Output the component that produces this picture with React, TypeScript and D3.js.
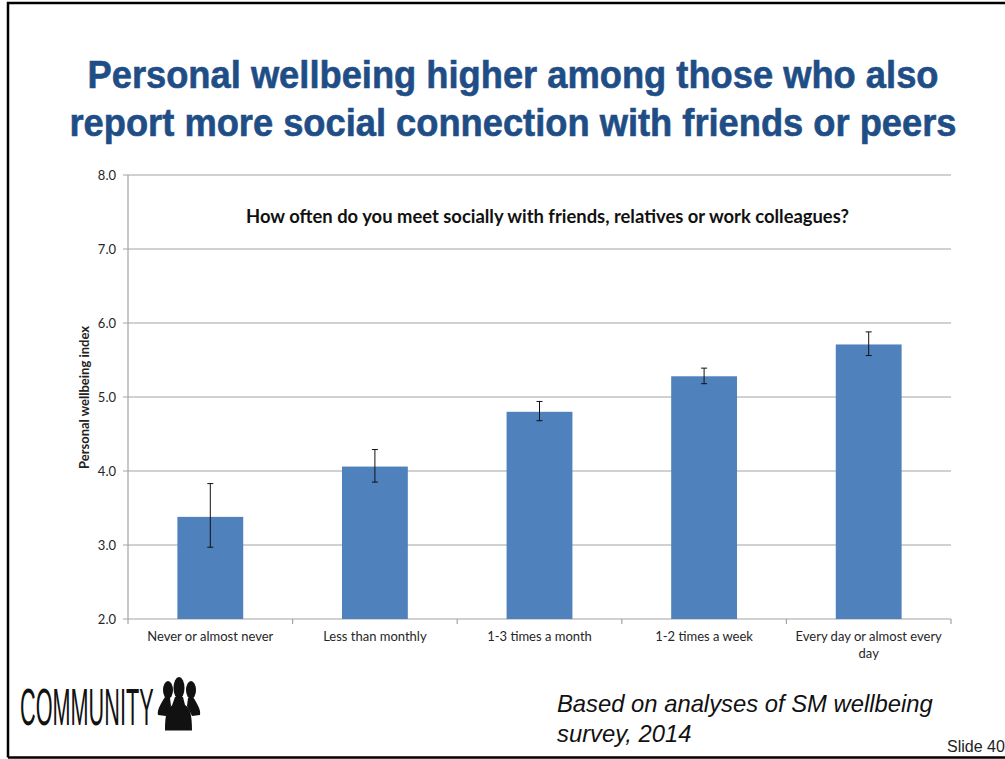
import React from "react";
import * as d3 from "d3";

const categories = ["Never or almost never", "Less than monthly", "1-3 times a month", "1-2 times a week", "Every day or almost every day"];
const categoryLines = [["Never or almost never"], ["Less than monthly"], ["1-3 times a month"], ["1-2 times a week"], ["Every day or almost every", "day"]];
const wellbeing = [3.38, 4.06, 4.8, 5.28, 5.71];
const errorLow = [2.97, 3.85, 4.68, 5.18, 5.56];
const errorHigh = [3.83, 4.29, 4.94, 5.39, 5.88];
const yTicks = [2, 3, 4, 5, 6, 7, 8];
const titleLines = ["Personal wellbeing higher among those who also", "report more social connection with friends or peers"];
const chartHeading = "How often do you meet socially with friends, relatives or work colleagues?";
const yLabel = "Personal wellbeing index";
const sourceLines = ["Based on analyses of SM wellbeing", "survey, 2014"];

const left = 128;
const right = 951;
const top = 175;
const bottom = 619;
const chartFont = "Lato, 'Open Sans', sans-serif";
const sansFont = "'Liberation Sans', Arial, sans-serif";
const axisGrey = "#a3a3a3";

export default function App() {
  const x = d3.scaleBand<string>().domain(categories).range([left, right]).paddingInner(0.6).paddingOuter(0.3);
  const y = d3.scaleLinear().domain([2, 8]).range([bottom, top]);
  const step = x.step();
  const edges = d3.range(categories.length + 1).map((i) => left + (i * (right - left)) / categories.length);

  return (
    <svg width={1005} height={759} viewBox="0 0 1005 759" style={{ position: "absolute", left: 0, top: 0, background: "#fff" }}>
      {/* slide frame */}
      <path d="M8 757.5V3H1005M8 757.5H1005" fill="none" stroke="#000" strokeWidth={2.5} />

      {titleLines.map((t, i) => (
        <text key={t} x={513} y={87.5 + i * 48.5} textAnchor="middle" fontFamily={sansFont} fontWeight={700} fontSize={38} fill="#1f4e87" stroke="#1f4e87" strokeWidth={0.6} textLength={i === 0 ? 851 : 887} lengthAdjust="spacingAndGlyphs">{t}</text>
      ))}

      {/* gridlines and value axis */}
      {yTicks.map((t) => (
        <g key={t}>
          <line x1={left - 5} x2={right} y1={y(t)} y2={y(t)} stroke={axisGrey} strokeWidth={1.2} />
          <text x={116} y={y(t) + 4.5} textAnchor="end" fontFamily={chartFont} fontSize={13} fill="#262626">{t.toFixed(1)}</text>
        </g>
      ))}
      <line x1={left} x2={left} y1={top} y2={bottom} stroke={axisGrey} strokeWidth={1.2} />
      {edges.map((e) => (
        <line key={e} x1={e} x2={e} y1={bottom} y2={bottom + 5} stroke={axisGrey} strokeWidth={1.2} />
      ))}

      {/* bars with error whiskers */}
      {categories.map((c, i) => {
        const cx = left + step * (i + 0.5);
        const barW = step * 0.4;
        return (
          <g key={c}>
            <rect x={cx - barW / 2} y={y(wellbeing[i])} width={barW} height={bottom - y(wellbeing[i])} fill="#4f81bd" />
            <line x1={cx} x2={cx} y1={y(errorLow[i])} y2={y(errorHigh[i])} stroke="#111" strokeWidth={1} />
            <line x1={cx - 3} x2={cx + 3} y1={y(errorLow[i])} y2={y(errorLow[i])} stroke="#111" strokeWidth={1} />
            <line x1={cx - 3} x2={cx + 3} y1={y(errorHigh[i])} y2={y(errorHigh[i])} stroke="#111" strokeWidth={1} />
            {categoryLines[i].map((line, j) => (
              <text key={line} x={cx} y={641 + j * 17} textAnchor="middle" fontFamily={chartFont} fontSize={13} fill="#262626">{line}</text>
            ))}
          </g>
        );
      })}

      <text x={547.5} y={222.5} textAnchor="middle" fontFamily={chartFont} fontWeight={700} fontSize={18.4} fill="#111">{chartHeading}</text>
      <text transform="translate(89,397.5) rotate(-90)" textAnchor="middle" fontFamily={chartFont} fontWeight={700} fontSize={13} fill="#222">{yLabel}</text>

      {/* community logo */}
      <text transform="translate(20,725) scale(0.425,1)" fontFamily={sansFont} fontSize={51} fill="#111">COMMUNITY</text>
      <g fill="#111">
        <ellipse cx={168} cy={690} rx={5} ry={9} />
        <ellipse cx={179} cy={688} rx={5.5} ry={11} />
        <ellipse cx={191} cy={690} rx={5} ry={9} />
        <path d="M165 697l5 1 1 8-5 10-8-1c-1-5 2-10 7-18zM193 697l-5 1-1 8 5 10 8-1c1-5-2-10-7-18z" />
        <path d="M175 697h8l2 8c5 3 7 9 7 25.500h-27c0-16 2-22 7-25z" />
      </g>

      {sourceLines.map((s, i) => (
        <text key={s} x={557} y={712 + i * 30} fontFamily={sansFont} fontStyle="italic" fontSize={23.8} fill="#111">{s}</text>
      ))}
      <text x={947} y={752} fontFamily={sansFont} fontSize={16} fill="#222">Slide 40</text>
    </svg>
  );
}
